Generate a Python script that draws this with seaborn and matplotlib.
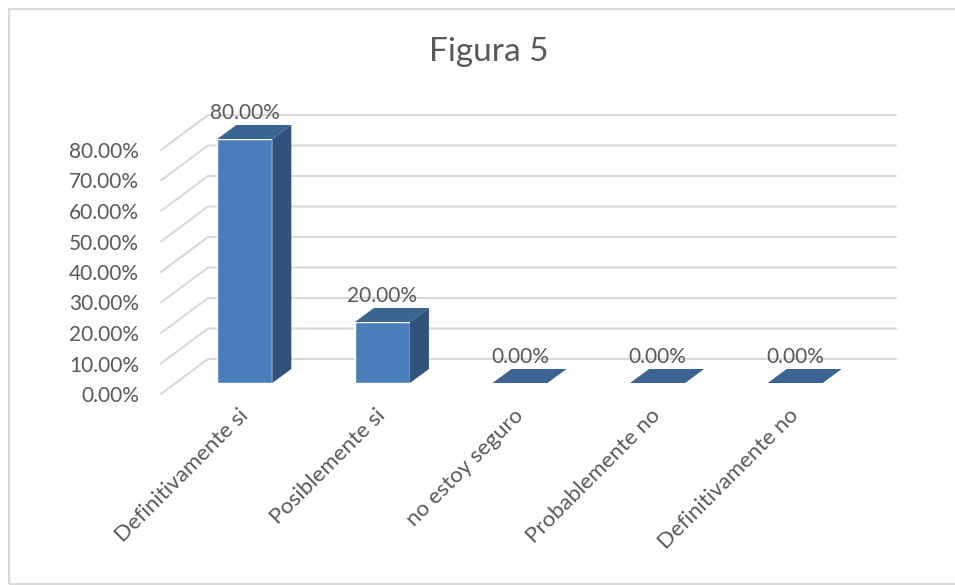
import matplotlib
matplotlib.use("Agg")
import matplotlib.pyplot as plt
from matplotlib.patches import Polygon, Rectangle
from matplotlib.transforms import offset_copy
import pandas as pd
import numpy as np
import seaborn as sns

categories = ["Definitivamente si", "Posiblemente si", "no estoy seguro",
              "Probablemente no", "Definitivamente no"]
values = [0.80, 0.20, 0.00, 0.00, 0.00]
yticks = [0.0, 0.1, 0.2, 0.3, 0.4, 0.5, 0.6, 0.7, 0.8]
title = "Figura 5"

front_col = "#4a7ebb"
side_col = "#30527d"
top_col = "#3b6492"
grid_col = "#d9d9d9"
text_col = "#595959"

sns.set_style("white")
plt.rcParams["font.family"] = ["Lato", "DejaVu Sans"]

df = pd.DataFrame({"Respuesta": categories, "Porcentaje": values})

W, H = 955, 585
fig = plt.figure(figsize=(W / 100, H / 100), dpi=100)
# front plane of the 3d box in pixels
x0, x1, yb, yt = 161, 849, 394, 150
ax = fig.add_axes([x0 / W, (H - yb) / H, (x1 - x0) / W, (yb - yt) / H])

sns.barplot(data=df, x="Respuesta", y="Porcentaje", color=front_col,
            width=0.4, saturation=1, ax=ax, zorder=3)
ax.set_xlim(-0.5, len(categories) - 0.5)
ax.set_ylim(0, 0.8)

# pixel -> data conversion for depth offsets
sx = len(categories) / (x1 - x0)
sy = 0.8 / (yb - yt)
full_d = np.array([47 * sx, 35 * sy])   # full depth of the box
bar_f = np.array([15 * sx, 11 * sy])    # bar front sits inside the box
bar_d = np.array([19 * sx, 14 * sy])    # depth of each bar

# perspective gridlines
for t in yticks:
    xs = [-0.5, -0.5 + full_d[0], len(categories) - 0.5 + full_d[0]]
    ys = [t, t + full_d[1], t + full_d[1]]
    ax.plot(xs, ys, color=grid_col, lw=1.5, clip_on=False, zorder=0)

# 3d faces of the bars
for p in ax.patches[:len(categories)]:
    bx, bw, bh = p.get_x(), p.get_width(), p.get_height()
    p.set_transform(offset_copy(ax.transData, fig, x=15, y=11, units="dots"))
    p.set_clip_on(False)
    fx, fy = bx + bar_f[0], bar_f[1]
    top = [(fx, fy + bh), (fx + bw, fy + bh),
           (fx + bw + bar_d[0], fy + bh + bar_d[1]), (fx + bar_d[0], fy + bh + bar_d[1])]
    ax.add_patch(Polygon(top, closed=True, facecolor=top_col, edgecolor="none",
                         clip_on=False, zorder=4))
    if bh > 0:
        side = [(fx + bw, fy), (fx + bw + bar_d[0], fy + bar_d[1]),
                (fx + bw + bar_d[0], fy + bh + bar_d[1]), (fx + bw, fy + bh)]
        ax.add_patch(Polygon(side, closed=True, facecolor=side_col, edgecolor="none",
                             clip_on=False, zorder=4))
    ax.text(fx + bw / 2, fy + bh + bar_d[1], f"{bh * 100:.2f}%",
            transform=offset_copy(ax.transData, fig, x=0, y=2, units="dots"),
            ha="center", va="bottom", fontsize=15, color=text_col, zorder=5)

# category labels
for i, c in enumerate(categories):
    ax.text(i, 0, c, transform=offset_copy(ax.transData, fig, x=8, y=-11, units="dots"),
            rotation=45, rotation_mode="anchor", ha="right", va="top",
            fontsize=16, color=text_col)

ax.set_xticks([])
ax.set_yticks(yticks)
ax.set_yticklabels([f"{t * 100:.2f}%" for t in yticks], fontsize=15, color=text_col)
ax.tick_params(axis="y", length=0, pad=16)
ax.set_xlabel("")
ax.set_ylabel("")
for s in ax.spines.values():
    s.set_visible(False)
ax.patch.set_alpha(0)

fig.text(488.5 / W, 1 - 52 / H, title, ha="center", va="center",
         fontsize=24, color=text_col)

fig.add_artist(Rectangle((9 / W, 1 / H), 1.0, (583 - 8) / H, transform=fig.transFigure,
                         fill=False, edgecolor=grid_col, lw=1.5))

fig.savefig("out.png", dpi=100)
